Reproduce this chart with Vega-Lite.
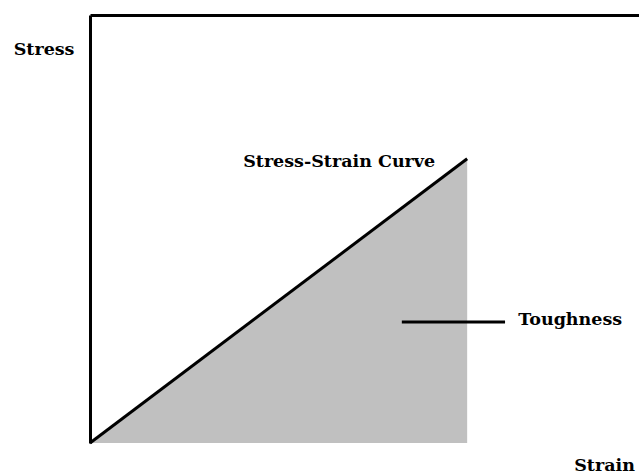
{
  "$schema": "https://vega.github.io/schema/vega-lite/v6.json",
  "width": 549,
  "height": 428,
  "autosize": {"type": "none"},
  "padding": {"left": 90, "top": 15, "right": 0, "bottom": 33},
  "background": "white",
  "config": {"view": {"stroke": null}},
  "datasets": {
    "curve": [
      {"strain": 0, "stress": 0},
      {"strain": 68.7, "stress": 66.4}
    ],
    "leader": [
      {"from": 56.8, "to": 75.6, "stress": 28.3}
    ],
    "labels": [
      {"label": "Stress", "strain": -13.9, "stress": 90.6},
      {"label": "Stress-Strain Curve", "strain": 27.9, "stress": 64.5},
      {"label": "Toughness", "strain": 78.0, "stress": 27.6},
      {"label": "Strain", "strain": 88.2, "stress": -6.6}
    ]
  },
  "layer": [
    {
      "data": {"name": "curve"},
      "mark": {"type": "area", "color": "#c0c0c0", "clip": false},
      "encoding": {
        "x": {"field": "strain", "type": "quantitative", "scale": {"domain": [0, 100], "nice": false},
          "axis": {"orient": "top", "domain": true, "domainColor": "black", "domainWidth": 3, "ticks": false, "labels": false, "grid": false, "title": null}},
        "y": {"field": "stress", "type": "quantitative", "scale": {"domain": [0, 100], "nice": false, "zero": true},
          "axis": {"orient": "left", "domain": true, "domainColor": "black", "domainWidth": 3, "ticks": false, "labels": false, "grid": false, "title": null}}
      }
    },
    {
      "data": {"name": "curve"},
      "mark": {"type": "line", "color": "black", "strokeWidth": 3},
      "encoding": {
        "x": {"field": "strain", "type": "quantitative"},
        "y": {"field": "stress", "type": "quantitative"}
      }
    },
    {
      "data": {"name": "leader"},
      "mark": {"type": "rule", "color": "black", "strokeWidth": 3},
      "encoding": {
        "x": {"field": "from", "type": "quantitative"},
        "x2": {"field": "to"},
        "y": {"field": "stress", "type": "quantitative"}
      }
    },
    {
      "data": {"name": "labels"},
      "mark": {"type": "text", "align": "left", "baseline": "alphabetic", "font": "DejaVu Serif", "fontWeight": "bold", "fontSize": 17.5, "color": "black"},
      "encoding": {
        "x": {"field": "strain", "type": "quantitative"},
        "y": {"field": "stress", "type": "quantitative"},
        "text": {"field": "label"}
      }
    }
  ]
}
